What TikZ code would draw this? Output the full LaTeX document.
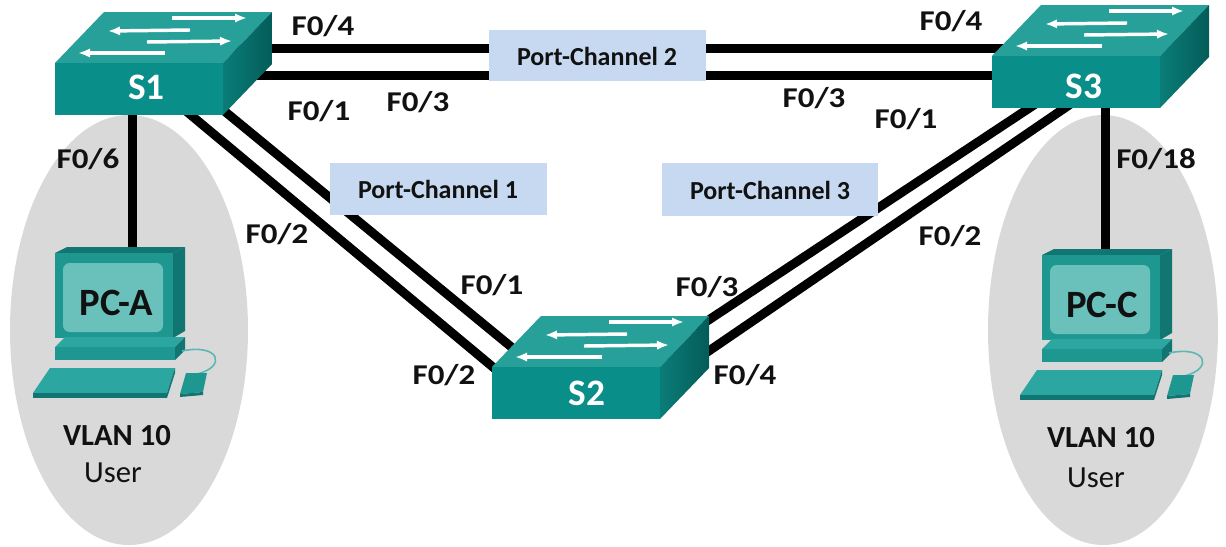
\documentclass[tikz,border=0pt]{standalone}
\usepackage{fontspec}
\setmainfont{Carlito}
\newfontfamily\widefont{Carlito}[FakeStretch=1.15]
\usetikzlibrary{arrows.meta}
\definecolor{swfront}{HTML}{0A8E89}
\definecolor{swtop}{HTML}{27A09A}
\definecolor{swsideA}{HTML}{0A7D78}
\definecolor{swsideB}{HTML}{045C58}
\definecolor{pcbody}{HTML}{1E9791}
\definecolor{pcdark}{HTML}{117571}
\definecolor{pclight}{HTML}{2BA6A0}
\definecolor{pcscreen}{HTML}{6AC1BC}
\definecolor{cable}{HTML}{5DB7B2}
\definecolor{ellgray}{HTML}{D9D9D9}
\definecolor{pcbox}{HTML}{C6D9F0}
\definecolor{txt}{HTML}{111111}
\tikzset{
  link/.style={line width=6.75pt, black},
  portlbl/.style={anchor=base, text=txt, font=\widefont\bfseries\fontsize{21.5pt}{21.5pt}\selectfont, inner sep=0pt},
  chanbox/.style={fill=pcbox, draw=none},
  chanlbl/.style={anchor=base, text=txt, font=\bfseries\fontsize{19.5pt}{19.5pt}\selectfont, inner sep=0pt},
  swlbl/.style={anchor=base, text=white, font=\bfseries\fontsize{28pt}{28pt}\selectfont, inner sep=0pt},
  pclbl/.style={anchor=base, text=txt, font=\bfseries\fontsize{29pt}{29pt}\selectfont, inner sep=0pt},
  vlanlbl/.style={anchor=base, text=txt, font=\bfseries\fontsize{23pt}{23pt}\selectfont, inner sep=0pt},
  userlbl/.style={anchor=base, text=txt, font=\fontsize{23pt}{23pt}\selectfont, inner sep=0pt},
  swarrow/.style={draw=white, line width=2.6pt, -{Latex[length=9pt,width=7pt]}},
}
\newcommand\drawswitch[2]{%
  \begin{scope}[shift={(#1,#2)}]
    \fill[swtop] (0,0) -- (49,-51) -- (217,-51) -- (168,0) -- cycle;
    \shade[left color=swsideA, right color=swsideB] (168,0) -- (217,-51) -- (217,1) -- (168,52) -- cycle;
    \fill[swfront] (0,0) rectangle (168,52);
    \draw[swarrow] (117,-45) -- (192,-45);
    \draw[swarrow] (135,-33) -- (53,-32);
    \draw[swarrow] (92,-21) -- (177,-22);
    \draw[swarrow] (110,-10) -- (23,-10);
  \end{scope}}
\newcommand\drawpc[2]{%
  \begin{scope}[shift={(#1,#2)}]
    \fill[pcdark] (0,0) -- (12,-6) -- (130,-6) -- (118,0) -- cycle;
    \fill[pcdark] (118,0) -- (130,-6) -- (130,78) -- (118,85) -- cycle;
    \fill[pcbody] (0,0) rectangle (118,85);
    \fill[pcscreen, rounded corners=5pt] (8,10) rectangle (108,79);
    \fill[pclight] (0,94) -- (10,84) -- (130,84) -- (120,94) -- cycle;
    \fill[pcbody] (0,94) rectangle (120,107);
    \fill[pcdark] (120,94) -- (130,84) -- (130,97) -- (120,107) -- cycle;
    \draw[cable, line width=1.2pt] (127,98) .. controls (165,90) and (172,114) .. (142,121);
    \fill[pclight] (-5,115) -- (120,115) -- (112,140) -- (-22,140) -- cycle;
    \fill[pcdark] (-22,140) -- (112,140) -- (112,145) -- (-22,145) -- cycle;
    \fill[pcdark] (120,115) -- (120,120) -- (112,145) -- (112,140) -- cycle;
    \fill[pcbody] (131,120) -- (152,120) -- (148,139) -- (125,141) -- cycle;
    \fill[pcdark] (125,141) -- (148,139) -- (148,142) -- (125,144) -- cycle;
  \end{scope}}
\begin{document}
\begin{tikzpicture}[x=0.75pt, y=-0.75pt]
\path[use as bounding box, fill=white] (0,0) rectangle (1226,546);
% user areas
\fill[ellgray] (129,330) ellipse [x radius=119, y radius=215];
\fill[ellgray] (1103,330) ellipse [x radius=115, y radius=215];
% connector end points
\coordinate (S1a) at (230,48);  \coordinate (S3a) at (1100,48);
\coordinate (S1b) at (200,75);  \coordinate (S3b) at (1050,75);
\coordinate (S1c) at (200,91);  \coordinate (S2c) at (515,350);
\coordinate (S1d) at (180,106); \coordinate (S2d) at (500,373);
\coordinate (S2e) at (695,329); \coordinate (S3e) at (1040,101);
\coordinate (S2f) at (700,357); \coordinate (S3f) at (1075,101);
\coordinate (S1g) at (132,100); \coordinate (PCAt) at (132,252);
\coordinate (S3g) at (1105,100); \coordinate (PCCt) at (1105,254);
% links
\draw[link] (S1a) -- (S3a);
\draw[link] (S1b) -- (S3b);
\draw[link] (S1c) -- (S2c);
\draw[link] (S1d) -- (S2d);
\draw[link] (S2e) -- (S3e);
\draw[link] (S2f) -- (S3f);
\draw[link] (S1g) -- (PCAt);
\draw[link] (S3g) -- (PCCt);
% port-channel boxes
\fill[chanbox] (489,30) rectangle (706,81);
\fill[chanbox] (330,163) rectangle (547,215);
\fill[chanbox] (662,163) rectangle (878,216);
\node[chanlbl] (pc2) at (597,65) {Port-Channel 2};
\node[chanlbl] (pc1) at (438,198) {Port-Channel 1};
\node[chanlbl] (pc3) at (770,199) {Port-Channel 3};
% switches
\drawswitch{55}{63}
\drawswitch{492}{367}
\drawswitch{992}{56}
\node[swlbl] (S1) at (146.5,99) {S1};
\node[swlbl] (S2) at (587,405) {S2};
\node[swlbl] (S3) at (1084,98) {S3};
% PCs
\drawpc{55}{253}
\drawpc{1042}{255}
\node[pclbl] (PCA) at (116,315) {PC-A};
\node[pclbl] (PCC) at (1102,317) {PC-C};
\node[vlanlbl] (vA) at (117,445) {VLAN 10};
\node[userlbl] (uA) at (113,482) {User};
\node[vlanlbl] (vC) at (1101,447) {VLAN 10};
\node[userlbl] (uC) at (1096,487) {User};
% port labels
\node[portlbl] (l1) at (323,35) {F0/4};
\node[portlbl] (l2) at (319,120) {F0/1};
\node[portlbl] (l3) at (418,111) {F0/3};
\node[portlbl] (l4) at (88,168) {F0/6};
\node[portlbl] (l5) at (277,243) {F0/2};
\node[portlbl] (l6) at (492,294) {F0/1};
\node[portlbl] (l7) at (444,384) {F0/2};
\node[portlbl] (l8) at (707,296) {F0/3};
\node[portlbl] (l9) at (745,384) {F0/4};
\node[portlbl] (l10) at (951,31) {F0/4};
\node[portlbl] (l11) at (814,107) {F0/3};
\node[portlbl] (l12) at (906,128) {F0/1};
\node[portlbl] (l13) at (950,245) {F0/2};
\node[portlbl] (l14) at (1156,168) {F0/18};
\end{tikzpicture}
\end{document}
